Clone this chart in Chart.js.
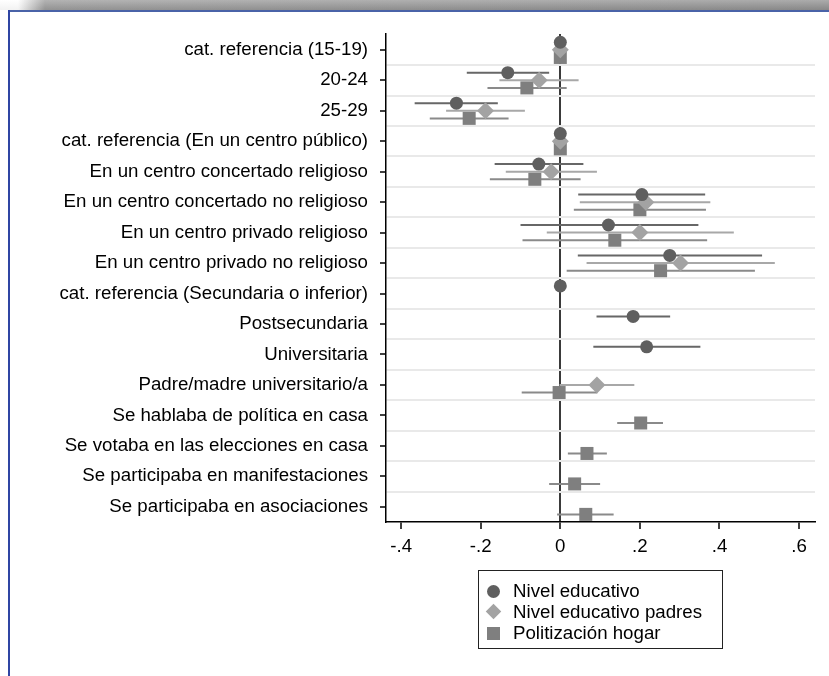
<!DOCTYPE html>
<html>
<head>
<meta charset="utf-8">
<script src="https://cdn.jsdelivr.net/npm/chart.js@4/dist/chart.umd.min.js"></script>
<style>
  html, body { margin: 0; padding: 0; background: #fff; }
  #wrap { position: relative; width: 829px; height: 676px; overflow: hidden; font-family: 'Liberation Sans', Arial, sans-serif; }
  #band { position: absolute; left: 0; top: 0; width: 829px; height: 10px;
          background: linear-gradient(to right, #fff 0px, #fff 18px, #9a9a9a 45px, #8f8f8f 100%); }
  #band:after { content: ''; position: absolute; left: 0; top: 0; right: 0; bottom: 0;
          background: linear-gradient(to bottom, rgba(255,255,255,0.25), rgba(0,0,0,0.05)); }
  #topline { position: absolute; left: 8px; top: 10px; width: 821px; height: 2px; background: #4a63a8; }
  #leftline { position: absolute; left: 8px; top: 10px; width: 2px; height: 666px; background: #2f45a3; }
  #chart { position: absolute; left: 0; top: 0; }
  #legend { position: absolute; left: 478px; top: 570px; width: 243px; height: 77px; border: 1px solid #222; }
  .row { position: absolute; left: 0; height: 20px; font-size: 18.7px; color: #000; }
  .row span { position: absolute; left: 34px; top: 0; line-height: 20px; white-space: nowrap; }
  .mk { position: absolute; }
  .circ { left: 8px; top: 4px; width: 13px; height: 13px; border-radius: 50%; background: #5f5f5f; }
  .diam { left: 9px; top: 4px; width: 11px; height: 11px; background: #a3a3a3; transform: rotate(45deg); }
  .sq { left: 8px; top: 4px; width: 13px; height: 13px; background: #7f7f7f; }
</style>
</head>
<body>
<div id="wrap">
  <div id="band"></div>
  <div id="topline"></div>
  <div id="leftline"></div>
  <canvas id="chart" width="829" height="676"></canvas>
  <div id="legend">
    <div class="row" style="top:10px"><div class="mk circ"></div><span>Nivel educativo</span></div>
    <div class="row" style="top:31px"><div class="mk diam"></div><span>Nivel educativo padres</span></div>
    <div class="row" style="top:52px"><div class="mk sq"></div><span>Politización hogar</span></div>
  </div>
</div>
<script>
// categories, top to bottom
const categories = [
    "cat. referencia (15-19)",
    "20-24",
    "25-29",
    "cat. referencia (En un centro público)",
    "En un centro concertado religioso",
    "En un centro concertado no religioso",
    "En un centro privado religioso",
    "En un centro privado no religioso",
    "cat. referencia (Secundaria o inferior)",
    "Postsecundaria",
    "Universitaria",
    "Padre/madre universitario/a",
    "Se hablaba de política en casa",
    "Se votaba en las elecciones en casa",
    "Se participaba en manifestaciones",
    "Se participaba en asociaciones"
];

const seriesNames = ["Nivel educativo", "Nivel educativo padres", "Politización hogar"];

// Nivel educativo (circles)
const nivelEst = [0, -0.132, -0.261, 0, -0.054, 0.205, 0.121, 0.275, 0, 0.183, 0.217, null, null, null, null, null];
const nivelLo  = [null, -0.235, -0.366, null, -0.165, 0.045, -0.100, 0.044, null, 0.091, 0.083, null, null, null, null, null];
const nivelHi  = [null, -0.028, -0.157, null, 0.058, 0.364, 0.347, 0.507, null, 0.276, 0.352, null, null, null, null, null];

// Nivel educativo padres (diamonds)
const padresEst = [0, -0.053, -0.188, 0, -0.023, 0.215, 0.200, 0.302, null, null, null, 0.092, null, null, null, null];
const padresLo  = [null, -0.153, -0.287, null, -0.137, 0.049, -0.034, 0.066, null, null, null, -0.002, null, null, null, null];
const padresHi  = [null, 0.046, -0.089, null, 0.092, 0.377, 0.436, 0.539, null, null, null, 0.186, null, null, null, null];

// Politización hogar (squares)
const hogarEst = [0, -0.084, -0.229, 0, -0.064, 0.200, 0.137, 0.252, null, null, null, -0.003, 0.202, 0.067, 0.036, 0.064];
const hogarLo  = [null, -0.183, -0.328, null, -0.177, 0.034, -0.095, 0.016, null, null, null, -0.097, 0.143, 0.019, -0.028, -0.008];
const hogarHi  = [null, 0.016, -0.130, null, 0.051, 0.366, 0.369, 0.489, null, null, null, 0.093, 0.258, 0.117, 0.100, 0.134];

const xTicks = [-0.4, -0.2, 0, 0.2, 0.4, 0.6];

function pointData(est, off) {
    const out = [];
    est.forEach((v, i) => { if (v !== null) out.push({ x: v, y: i + off }); });
    return out;
}

function ciData(lo, hi, off) {
    const out = [];
    lo.forEach((v, i) => {
        if (v === null) return;
        out.push({ x: v, y: i + off }, { x: hi[i], y: i + off }, { x: null, y: null });
    });
    return out;
}

const styles = [
    { est: nivelEst, lo: nivelLo, hi: nivelHi, off: -0.25, shape: 'circle', r: 6.5, fill: '#5f5f5f', line: '#676767' },
    { est: padresEst, lo: padresLo, hi: padresHi, off: 0, shape: 'rectRot', r: 8.5, fill: '#a3a3a3', line: '#a8a8a8' },
    { est: hogarEst, lo: hogarLo, hi: hogarHi, off: 0.25, shape: 'rect', r: 9.2, fill: '#7f7f7f', line: '#8a8a8a' }
];

const datasets = [];
styles.forEach((s, k) => {
    datasets.push({
        label: seriesNames[k],
        data: pointData(s.est, s.off),
        showLine: false,
        pointStyle: s.shape,
        pointRadius: s.r,
        pointBackgroundColor: s.fill,
        pointBorderWidth: 0,
        order: 0,
        clip: false
    });
    datasets.push({
        label: seriesNames[k] + ' IC',
        data: ciData(s.lo, s.hi, s.off),
        showLine: true,
        spanGaps: false,
        borderColor: s.line,
        borderWidth: 2,
        pointRadius: 0,
        order: 1
    });
});

Chart.defaults.font.family = "'Liberation Sans', Arial, sans-serif";
Chart.defaults.font.size = 18.7;
Chart.defaults.color = '#000';

new Chart(document.getElementById('chart').getContext('2d'), {
    type: 'scatter',
    data: { datasets: datasets },
    options: {
        responsive: false,
        animation: false,
        layout: { padding: { left: 8, right: 14, top: 34, bottom: 114 } },
        plugins: { legend: { display: false }, tooltip: { enabled: false } },
        scales: {
            x: {
                type: 'linear',
                min: -0.438,
                max: 0.64,
                afterBuildTicks: (scale) => { scale.ticks = xTicks.map(v => ({ value: v })); },
                afterFit: (scale) => { scale.height = 40; },
                border: { display: true, color: '#000', width: 1.5 },
                grid: {
                    drawOnChartArea: true,
                    color: (ctx) => (ctx.tick && ctx.tick.value === 0) ? '#3a3a3a' : 'rgba(0,0,0,0)',
                    lineWidth: 2,
                    tickColor: '#000',
                    tickWidth: 1.5,
                    tickLength: 7
                },
                ticks: {
                    padding: 7,
                    autoSkip: false,
                    maxRotation: 0,
                    callback: (v) => v === 0 ? '0' : (v < 0 ? '-' : '') + Math.abs(v).toFixed(1).replace(/^0/, '')
                }
            },
            y: {
                type: 'linear',
                reverse: true,
                min: -0.52,
                max: 15.5,
                afterBuildTicks: (scale) => {
                    const t = [];
                    for (let i = 0; i < categories.length; i++) {
                        t.push({ value: i });
                        if (i < categories.length - 1) t.push({ value: i + 0.5 });
                    }
                    scale.ticks = t;
                },
                afterFit: (scale) => { scale.width = 378; },
                border: { display: true, color: '#000', width: 1.5 },
                grid: {
                    drawOnChartArea: true,
                    color: (ctx) => Number.isInteger(ctx.tick.value) ? 'rgba(0,0,0,0)' : '#e9e9e9',
                    lineWidth: 2,
                    tickColor: (ctx) => Number.isInteger(ctx.tick.value) ? '#000' : 'rgba(0,0,0,0)',
                    tickWidth: 1.5,
                    tickLength: 6
                },
                ticks: {
                    padding: 12,
                    autoSkip: false,
                    callback: (v) => Number.isInteger(v) ? categories[v] : ''
                }
            }
        }
    }
});
</script>
</body>
</html>
